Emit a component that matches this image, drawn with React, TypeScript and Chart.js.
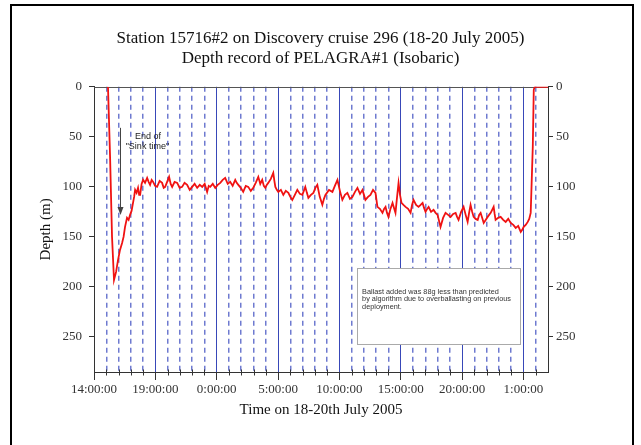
import React, { useEffect, useRef } from "react";
import { Chart, registerables } from "chart.js";

Chart.register(...registerables);

// Hours elapsed since 14:00 on 18 July 2005
const hours = [
  1.14, 1.31, 1.47, 1.63, 1.8, 1.96, 2.12, 2.29, 2.41, 2.53,
  2.69, 2.82, 2.94, 3.06, 3.18, 3.27, 3.35, 3.47, 3.59, 3.68,
  3.76, 3.88, 4.0, 4.16, 4.33, 4.45, 4.57, 4.7, 4.82, 4.98,
  5.14, 5.35, 5.55, 5.68, 5.8, 5.96, 6.12, 6.25, 6.37, 6.57,
  6.78, 6.98, 7.18, 7.38, 7.59, 7.8, 8.0, 8.2, 8.41, 8.62,
  8.82, 9.02, 9.22, 9.35, 9.47, 9.68, 9.88, 10.08, 10.29, 10.49,
  10.69, 10.9, 11.1, 11.3, 11.51, 11.63, 11.76, 11.96, 12.16, 12.37,
  12.57, 12.78, 12.98, 13.18, 13.39, 13.55, 13.71, 13.84, 13.96, 14.08,
  14.2, 14.41, 14.61, 14.7, 14.78, 14.9, 15.02, 15.23, 15.43, 15.63,
  15.84, 16.0, 16.16, 16.37, 16.57, 16.78, 16.98, 17.1, 17.22, 17.35,
  17.47, 17.68, 17.88, 18.04, 18.2, 18.4, 18.61, 18.74, 18.86, 19.15,
  19.43, 19.63, 19.84, 20.04, 20.24, 20.45, 20.65, 20.86, 21.06, 21.27,
  21.47, 21.68, 21.88, 22.0, 22.12, 22.33, 22.53, 22.74, 22.94, 23.1,
  23.3, 23.51, 23.64, 23.76, 23.88, 24.0, 24.16, 24.33, 24.45, 24.57,
  24.7, 24.82, 24.94, 25.06, 25.22, 25.39, 25.6, 25.8, 25.92, 26.04,
  26.25, 26.45, 26.62, 26.78, 26.9, 27.02, 27.15, 27.27, 27.47, 27.67,
  27.84, 28.0, 28.12, 28.24, 28.45, 28.65, 28.86, 29.06, 29.27, 29.47,
  29.59, 29.71, 29.92, 30.12, 30.29, 30.45, 30.57, 30.69, 30.82, 30.94,
  31.1, 31.27, 31.39, 31.51, 31.64, 31.76, 31.92, 32.08, 32.33, 32.57,
  32.65, 32.73, 32.94, 33.14, 33.35, 33.55, 33.76, 33.96, 34.17, 34.37,
  34.57, 34.78, 34.9, 35.02, 35.18, 35.35, 35.47, 35.59, 35.67, 35.76,
  35.84, 35.92, 37.0,
];

// Depth (m)
const depths = [
  0, 70, 150, 193, 185, 173, 163, 156, 150, 140,
  131, 133, 128, 124, 116, 110, 103, 106, 101, 108,
  108, 97, 93, 96, 91, 95, 98, 93, 95, 99,
  100, 94, 96, 101, 100, 95, 90, 97, 100, 95,
  96, 101, 100, 96, 98, 103, 100, 97, 101, 98,
  100, 97, 105, 99, 100, 97, 101, 98, 96, 93,
  91, 97, 95, 99, 93, 96, 98, 101, 105, 99,
  100, 104, 101, 96, 90, 97, 93, 99, 101, 98,
  96, 92, 86, 94, 100, 103, 105, 103, 108, 104,
  106, 110, 113, 108, 103, 107, 108, 104, 100, 106,
  111, 108, 106, 101, 98, 110, 118, 112, 108, 103,
  105, 99, 93, 104, 113, 108, 106, 112, 110, 105,
  101, 107, 103, 108, 113, 110, 108, 103, 106, 120,
  122, 126, 122, 120, 126, 130, 122, 116, 121, 126,
  110, 96, 108, 116, 118, 120, 122, 126, 118, 113,
  118, 120, 118, 116, 121, 125, 122, 120, 125, 123,
  126, 128, 134, 140, 131, 126, 128, 130, 127, 126,
  130, 133, 125, 120, 128, 135, 126, 118, 125, 130,
  132, 133, 128, 126, 131, 136, 133, 130, 126, 120,
  127, 133, 131, 130, 133, 135, 132, 136, 138, 141,
  139, 145, 143, 140, 138, 135, 132, 126, 95, 60,
  3, 0, 0,
];

const xTickLabels = ["14:00:00", "19:00:00", "0:00:00", "5:00:00", "10:00:00", "15:00:00", "20:00:00", "1:00:00"];
const yTickValues = [0, 50, 100, 150, 200, 250];
const titleLines = [
  "Station 15716#2 on Discovery cruise 296 (18-20 July 2005)",
  "Depth record of PELAGRA#1 (Isobaric)",
];
const xTitle = "Time on 18-20th July 2005";
const yTitle = "Depth (m)";
const sinkNote = ["End of", "\"Sink time\""];
const ballastNote = [
  "Ballast added was 88g less than predicted",
  "by algorithm due to overballasting on previous",
  "deployment.",
];

const X_MAX = 37;
const Y_MAX = 285;
const MAJOR_EVERY = 5;

const serif = "'Liberation Serif', 'Times New Roman', serif";
const sans = "'Liberation Sans', Arial, sans-serif";

const notesPlugin = {
  id: "notes",
  beforeDatasetsDraw(chart: any) {
    const { ctx, chartArea } = chart;
    ctx.save();
    ctx.strokeStyle = "#555";
    ctx.lineWidth = 1;
    ctx.beginPath();
    ctx.moveTo(chartArea.left, Math.round(chartArea.top) + 0.5);
    ctx.lineTo(chartArea.right, Math.round(chartArea.top) + 0.5);
    ctx.stroke();
    ctx.restore();
  },
  afterDatasetsDraw(chart: any) {
    const { ctx, chartArea, scales } = chart;
    const x = scales.x;
    const y = scales.y;
    ctx.save();
    // minor tick marks crossing the x axis
    ctx.strokeStyle = "#333";
    ctx.lineWidth = 1;
    const by = Math.round(chartArea.bottom) + 0.5;
    for (let h = 1; h < X_MAX; h++) {
      if (h % MAJOR_EVERY === 0) continue;
      const px = Math.round(x.getPixelForValue(h)) + 0.5;
      ctx.beginPath();
      ctx.moveTo(px, by - 3);
      ctx.lineTo(px, by + 3);
      ctx.stroke();
    }
    // Arrow for "End of Sink time"
    const ax = Math.round(x.getPixelForValue(2.12)) + 0.5;
    const ay1 = y.getPixelForValue(41);
    const ay2 = y.getPixelForValue(128);
    ctx.strokeStyle = "#444";
    ctx.fillStyle = "#444";
    ctx.lineWidth = 1;
    ctx.beginPath();
    ctx.moveTo(ax, ay1);
    ctx.lineTo(ax, ay2 - 6);
    ctx.stroke();
    ctx.beginPath();
    ctx.moveTo(ax, ay2);
    ctx.lineTo(ax - 3, ay2 - 8);
    ctx.lineTo(ax + 3, ay2 - 8);
    ctx.closePath();
    ctx.fill();
    ctx.font = `9px ${sans}`;
    ctx.fillStyle = "#222";
    ctx.textAlign = "center";
    ctx.textBaseline = "middle";
    ctx.fillText(sinkNote[0], x.getPixelForValue(4.4), y.getPixelForValue(50));
    ctx.fillText(sinkNote[1], x.getPixelForValue(4.35), y.getPixelForValue(60));

    // Ballast text box
    const bx1 = Math.round(x.getPixelForValue(21.4)) + 0.5;
    const bx2 = Math.round(x.getPixelForValue(34.7)) + 0.5;
    const by1 = Math.round(y.getPixelForValue(181)) + 0.5;
    const by2 = Math.round(y.getPixelForValue(257)) + 0.5;
    ctx.fillStyle = "#fff";
    ctx.fillRect(bx1, by1, bx2 - bx1, by2 - by1);
    ctx.strokeStyle = "#aaa";
    ctx.strokeRect(bx1, by1, bx2 - bx1, by2 - by1);
    ctx.fillStyle = "#333";
    ctx.font = `7.3px ${sans}`;
    ctx.textAlign = "left";
    const tx = x.getPixelForValue(21.85);
    [205, 212.5, 220].forEach((d, i) => {
      ctx.fillText(ballastNote[i], tx, y.getPixelForValue(d));
    });
    ctx.restore();
  },
};

export default function App() {
  const canvasRef = useRef<HTMLCanvasElement | null>(null);

  useEffect(() => {
    const canvas = canvasRef.current;
    if (!canvas) return;
    const points = hours.map((h, i) => ({ x: h, y: depths[i] }));
    const yTickBuilder = (scale: any) => {
      scale.ticks = yTickValues.map((v) => ({ value: v }));
    };
    const isMajor = (ctx: any) => ctx.tick && ctx.tick.value % MAJOR_EVERY === 0;
    const chart = new Chart(canvas, {
      type: "line",
      data: {
        datasets: [
          {
            label: "Depth",
            data: points,
            borderColor: "#f01212",
            borderWidth: 1.8,
            pointRadius: 0,
            tension: 0,
            fill: false,
          },
        ],
      },
      options: {
        responsive: false,
        animation: false,
        devicePixelRatio: 1,
        layout: { padding: 0 },
        plugins: {
          legend: { display: false },
          tooltip: { enabled: false },
          title: {
            display: true,
            text: titleLines,
            color: "#111",
            font: { family: serif, size: 17, weight: "normal", lineHeight: 1.2 },
            padding: { top: 28, bottom: 18 },
          },
        },
        scales: {
          x: {
            type: "linear",
            min: 0,
            max: X_MAX,
            afterBuildTicks: (scale: any) => {
              const t = [];
              for (let h = 0; h < X_MAX; h++) t.push({ value: h });
              scale.ticks = t;
            },
            afterFit: (scale: any) => {
              scale.height = 73;
            },
            ticks: {
              autoSkip: false,
              maxRotation: 0,
              minRotation: 0,
              padding: 2,
              color: "#333",
              font: { family: serif, size: 13 },
              callback: (value: any) => {
                const v = Number(value);
                return v % MAJOR_EVERY === 0 ? xTickLabels[v / MAJOR_EVERY] ?? "" : "";
              },
            },
            grid: {
              drawOnChartArea: true,
              drawTicks: true,
              tickLength: 8,
              color: (ctx: any) => (isMajor(ctx) ? "#3848b8" : "#6e7ad0"),
              lineWidth: (ctx: any) => (isMajor(ctx) ? 1 : 1.5),
              tickColor: (ctx: any) => (isMajor(ctx) ? "#333" : "rgba(0,0,0,0)"),
              tickWidth: 1,
            },
            border: {
              display: true,
              color: "#333",
              width: 1,
              dash: (ctx: any) => (ctx.tick && !isMajor(ctx) ? [5, 4] : []),
            },
            title: {
              display: true,
              text: xTitle,
              color: "#111",
              font: { family: serif, size: 15 },
              padding: { top: 0, bottom: 26 },
            },
          },
          y: {
            type: "linear",
            position: "left",
            reverse: true,
            min: 0,
            max: Y_MAX,
            afterBuildTicks: yTickBuilder,
            afterFit: (scale: any) => {
              scale.width = 94;
            },
            ticks: {
              padding: 7,
              color: "#333",
              font: { family: serif, size: 13 },
            },
            grid: {
              drawOnChartArea: false,
              drawTicks: true,
              tickLength: 5,
              tickColor: "#333",
            },
            border: { display: true, color: "#333", width: 1 },
            title: {
              display: true,
              text: yTitle,
              color: "#111",
              font: { family: serif, size: 15 },
              padding: { top: 37, bottom: 0 },
            },
          },
          y2: {
            type: "linear",
            position: "right",
            reverse: true,
            min: 0,
            max: Y_MAX,
            afterBuildTicks: yTickBuilder,
            afterFit: (scale: any) => {
              scale.width = 93;
            },
            ticks: {
              padding: 3,
              color: "#333",
              font: { family: serif, size: 13 },
            },
            grid: {
              drawOnChartArea: false,
              drawTicks: true,
              tickLength: 5,
              tickColor: "#333",
            },
            border: { display: true, color: "#333", width: 1 },
          },
        },
      },
      plugins: [notesPlugin],
    } as any);
    return () => chart.destroy();
  }, []);

  return (
    <div
      style={{
        position: "fixed",
        left: 0,
        top: 0,
        width: 641,
        height: 445,
        overflow: "hidden",
        background: "#fff",
      }}
    >
      <canvas ref={canvasRef} width={641} height={445} style={{ display: "block" }} />
      <div
        style={{
          position: "absolute",
          left: 10,
          top: 4,
          width: 620,
          height: 470,
          border: "2px solid #000",
          pointerEvents: "none",
        }}
      />
    </div>
  );
}
